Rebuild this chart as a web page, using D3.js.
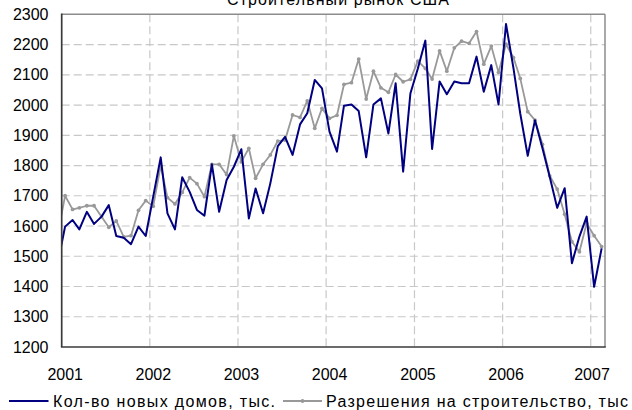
<!DOCTYPE html>
<html><head><meta charset="utf-8">
<script src="https://cdn.jsdelivr.net/npm/d3@7"></script>
<style>
html,body{margin:0;padding:0;background:#fff;}
svg{display:block;}
text{font-family:"Liberation Sans",Arial,sans-serif;fill:#000;}
</style></head>
<body>
<svg id="chart" width="632" height="410"></svg>
<script>
const title = "Строительный рынок США";
const seriesNames = ["Кол-во новых домов, тыс.", "Разрешения на строительство, тыс"];
const months = [
 "2000-12",
 "2001-01","2001-02","2001-03","2001-04","2001-05","2001-06","2001-07","2001-08","2001-09","2001-10","2001-11","2001-12",
 "2002-01","2002-02","2002-03","2002-04","2002-05","2002-06","2002-07","2002-08","2002-09","2002-10","2002-11","2002-12",
 "2003-01","2003-02","2003-03","2003-04","2003-05","2003-06","2003-07","2003-08","2003-09","2003-10","2003-11","2003-12",
 "2004-01","2004-02","2004-03","2004-04","2004-05","2004-06","2004-07","2004-08","2004-09","2004-10","2004-11","2004-12",
 "2005-01","2005-02","2005-03","2005-04","2005-05","2005-06","2005-07","2005-08","2005-09","2005-10","2005-11","2005-12",
 "2006-01","2006-02","2006-03","2006-04","2006-05","2006-06","2006-07","2006-08","2006-09","2006-10","2006-11","2006-12",
 "2007-01","2007-02"
];
const housingStarts = [
 1475,
 1598,1620,1589,1647,1607,1631,1669,1567,1561,1540,1598,1567,
 1697,1827,1642,1589,1761,1713,1653,1634,1804,1647,1752,1796,
 1854,1625,1724,1642,1741,1864,1895,1835,1936,1973,2083,2055,
 1912,1846,1998,2002,1980,1827,2002,2022,1906,2072,1780,2038,
 2121,2213,1855,2078,2036,2078,2072,2072,2160,2044,2132,2002,
 2268,2121,1972,1832,1950,1857,1763,1660,1725,1477,1565,1631,
 1399,1526
];
const permits = [
 1570,
 1700,1655,1660,1667,1667,1631,1596,1617,1564,1568,1652,1684,
 1665,1800,1694,1673,1711,1760,1740,1697,1804,1804,1770,1898,
 1812,1857,1758,1804,1835,1881,1884,1967,1959,2014,1923,1989,
 1956,1966,2068,2074,2152,2020,2112,2057,2042,2101,2077,2085,
 2145,2121,2086,2179,2112,2189,2211,2204,2243,2135,2195,2108,
 2201,2157,2088,1978,1950,1870,1766,1722,1639,1548,1515,1609,
 1568,1532
];
const yTicks = [1200,1300,1400,1500,1600,1700,1800,1900,2000,2100,2200,2300];
const xTickYears = [2001,2002,2003,2004,2005,2006,2007];
const axisStart = "2001-01-01", axisEnd = "2007-03-01";

const svg = d3.select("#chart");
const L = 61.7, R = 605, T = 14.3, B = 347;
const parseMonth = d3.timeParse("%Y-%m-%d");
const dates = months.map(m => parseMonth(m + "-15"));

const x = d3.scaleTime().domain([parseMonth(axisStart), parseMonth(axisEnd)]).range([L, R]);
const y = d3.scaleLinear().domain([1200, 2300]).range([B, T]);

// clip
svg.append("defs").append("clipPath").attr("id","plotclip")
  .append("rect").attr("x", L).attr("y", T - 3).attr("width", R - L).attr("height", B - T + 3);

// grid horizontal
svg.append("g").selectAll("line").data(yTicks.filter(v => v > 1200 && v < 2300)).join("line")
  .attr("x1", L).attr("x2", R).attr("y1", d => y(d)).attr("y2", d => y(d))
  .attr("stroke", "#c8c8c8").attr("stroke-width", 1.2).attr("stroke-dasharray", "8,4");
// grid vertical
svg.append("g").selectAll("line").data(xTickYears.slice(1)).join("line")
  .attr("x1", d => x(new Date(d,0,1))).attr("x2", d => x(new Date(d,0,1)))
  .attr("y1", T).attr("y2", B)
  .attr("stroke", "#c8c8c8").attr("stroke-width", 1.2).attr("stroke-dasharray", "8,4");

// borders
svg.append("line").attr("x1", L).attr("x2", R).attr("y1", T).attr("y2", T).attr("stroke", "#8c8c8c").attr("stroke-width", 1.5);
svg.append("line").attr("x1", R).attr("x2", R).attr("y1", T).attr("y2", B).attr("stroke", "#8c8c8c").attr("stroke-width", 1.5);

const line = d3.line().x((d,i) => x(dates[i])).y(d => y(d));
const plot = svg.append("g").attr("clip-path", "url(#plotclip)");
plot.append("path").datum(permits).attr("d", line).attr("fill","none")
  .attr("stroke", "#999999").attr("stroke-width", 1.8).attr("stroke-linejoin","round");
plot.append("g").selectAll("circle").data(permits).join("circle")
  .attr("cx", (d,i) => x(dates[i])).attr("cy", d => y(d)).attr("r", 1.9).attr("fill", "#999999");
plot.append("path").datum(housingStarts).attr("d", line).attr("fill","none")
  .attr("stroke", "#000080").attr("stroke-width", 2).attr("stroke-linejoin","round");

// axis lines
svg.append("line").attr("x1", L).attr("x2", L).attr("y1", T - 0.7).attr("y2", B).attr("stroke", "#3a3a3a").attr("stroke-width", 1.7);
svg.append("line").attr("x1", L - 0.8).attr("x2", R + 0.8).attr("y1", B).attr("y2", B).attr("stroke", "#3a3a3a").attr("stroke-width", 1.7);

// y labels
svg.append("g").selectAll("text").data(yTicks).join("text")
  .attr("x", 48.5).attr("y", d => y(d) + 5.6).attr("text-anchor", "end")
  .attr("font-size", 16).text(d => d);

// x labels
svg.append("g").selectAll("text").data(xTickYears).join("text")
  .attr("x", d => Math.min(x(new Date(d,0,1)) + 3.5, 592)).attr("y", 379.5).attr("text-anchor", "middle")
  .attr("font-size", 16).text(d => d);

// title
svg.append("text").attr("x", 338).attr("y", 5).attr("text-anchor", "middle")
  .attr("font-size", 16).attr("textLength", 222).attr("lengthAdjust", "spacing").text(title);

// legend
const ly = 401;
svg.append("line").attr("x1", 9).attr("x2", 48.5).attr("y1", ly).attr("y2", ly).attr("stroke", "#000080").attr("stroke-width", 1.8);
svg.append("text").attr("x", 53).attr("y", ly + 5.5).attr("font-size", 16)
  .attr("textLength", 222).attr("lengthAdjust", "spacing").text(seriesNames[0]);
svg.append("line").attr("x1", 283).attr("x2", 322).attr("y1", ly).attr("y2", ly).attr("stroke", "#999999").attr("stroke-width", 1.8);
svg.append("circle").attr("cx", 302.5).attr("cy", ly).attr("r", 1.9).attr("fill", "#999999");
svg.append("text").attr("x", 326).attr("y", ly + 5.5).attr("font-size", 16)
  .attr("textLength", 302).attr("lengthAdjust", "spacing").text(seriesNames[1]);
</script>
</body></html>
